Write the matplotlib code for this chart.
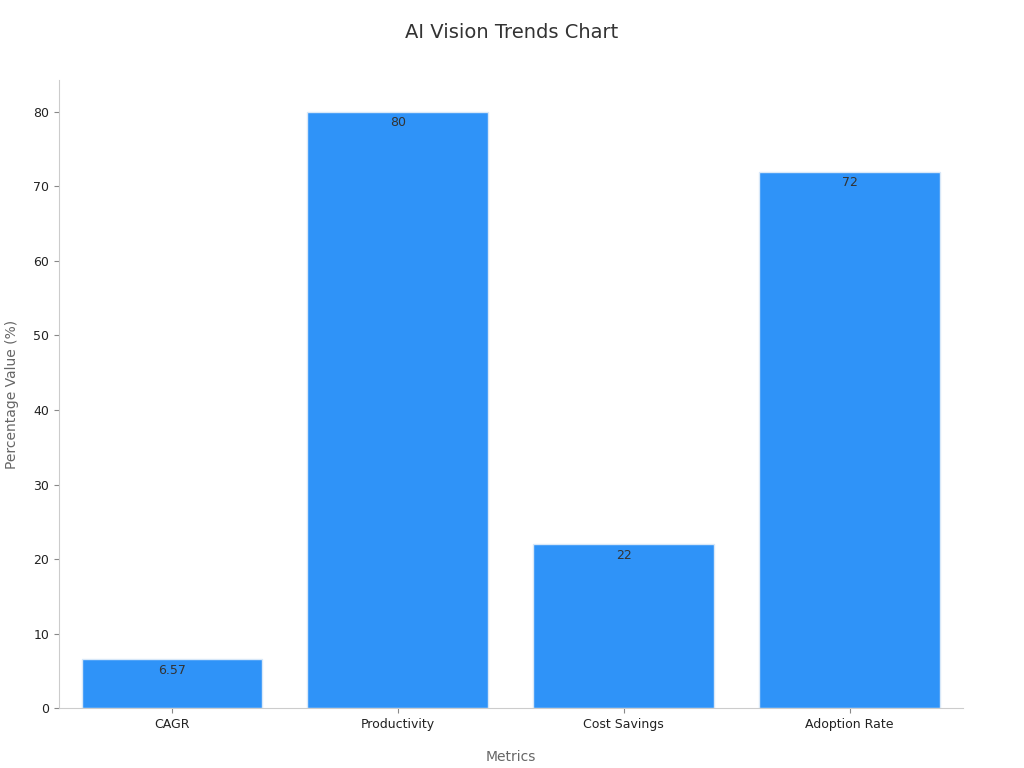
import matplotlib
matplotlib.use("Agg")
import matplotlib.pyplot as plt

categories = ["CAGR", "Productivity", "Cost Savings", "Adoption Rate"]
values = [6.57, 80, 22, 72]
labels = ["6.57", "80", "22", "72"]

fig = plt.figure(figsize=(10.24, 7.68), dpi=100)
ax = fig.add_axes([0.0576, 0.078, 0.8824, 0.818])
x = range(len(categories))
bars = ax.bar(x, values, width=0.8, color="#2F93F8", edgecolor="#d8e8f8", linewidth=1)
for xi, v, l in zip(x, values, labels):
    ax.text(xi, v - 0.6, l, ha="center", va="top", fontsize=9, color="#333333")
ax.set_xticks(list(x))
ax.set_xticklabels(categories, fontsize=9, color="#222222")
ax.set_xlim(-0.5, 3.5)
ax.set_ylim(0, 84.3)
ax.set_yticks(range(0, 81, 10))
ax.tick_params(axis="y", labelsize=9, labelcolor="#222222", color="#888888")
ax.tick_params(axis="x", color="#888888")
for s in ["top", "right"]:
    ax.spines[s].set_visible(False)
for s in ["left", "bottom"]:
    ax.spines[s].set_color("#cccccc")
ax.set_xlabel("Metrics", fontsize=10, color="#666666", labelpad=14)
ax.set_ylabel("Percentage Value (%)", fontsize=10, color="#666666", labelpad=10)
fig.suptitle("AI Vision Trends Chart", fontsize=14, color="#333333", y=0.97)
fig.savefig("out.png", dpi=100)
